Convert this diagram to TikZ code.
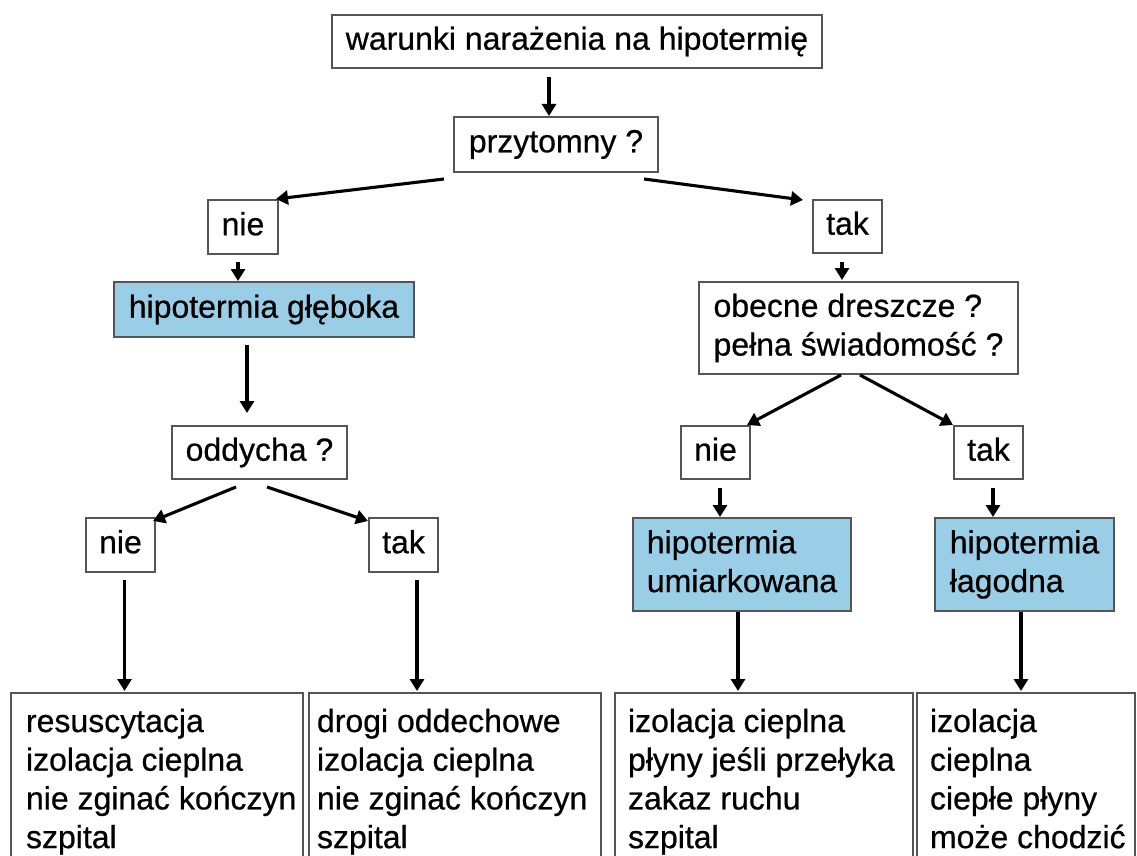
\documentclass[tikz,border=0pt]{standalone}
\usepackage{fontspec}
\setmainfont{Liberation Sans}[FakeBold=0.6]
\usetikzlibrary{arrows.meta}
\definecolor{boxgray}{RGB}{85,85,85}
\definecolor{lblue}{RGB}{153,206,230}
\newcommand\ms{\rule[-0.212em]{0pt}{0.905em}}
\begin{document}
\begin{tikzpicture}[x=1pt,y=-1pt,
  box/.style={draw=boxgray,line width=1.4pt,inner sep=0pt,outer sep=0pt,fill=white,
    font=\fontsize{32}{38.7}\selectfont},
  hyp/.style={box,fill=lblue},
  arr/.style={line width=3.1pt,-{Triangle[length=12pt,width=14pt]}},
  txt/.style={inner sep=0pt,outer sep=0pt,anchor=base west,font=\fontsize{32}{38.7}\selectfont}]
\clip (0,0) rectangle (1137,856);
\fill[white] (0,0) rectangle (1137,856);
% decision / label boxes
\node[box,minimum width=490,minimum height=53] (top) at (577,41.5) {\ms warunki narażenia na hipotermię};
\node[box,minimum width=204,minimum height=55] (p) at (556,144.5) {\ms przytomny ?};
\node[box,minimum width=70,minimum height=54] (n1) at (243,227) {\ms nie};
\node[box,minimum width=69,minimum height=53] (t1) at (847.5,226.5) {\ms tak};
\node[hyp,minimum width=300,minimum height=55] (hg) at (264,309.5) {\ms hipotermia głęboka};
\node[box,minimum width=175,minimum height=53] (od) at (259.5,452.5) {\ms oddycha ?};
\node[box,minimum width=69,minimum height=54] (n2) at (120.5,545) {\ms nie};
\node[box,minimum width=69,minimum height=54] (t2) at (403.5,545) {\ms tak};
\node[box,minimum width=319,minimum height=92,align=left] (ob) at (858.5,328) {\ms obecne dreszcze ?\\\ms pełna świadomość ?};
\node[box,minimum width=69,minimum height=53] (n3) at (715.5,452.5) {\ms nie};
\node[box,minimum width=69,minimum height=53] (t3) at (988.5,452.5) {\ms tak};
\node[hyp,minimum width=218,minimum height=93,align=left] (hu) at (742,564.5) {\ms hipotermia\\\ms umiarkowana};
\node[hyp,minimum width=179,minimum height=93,align=left] (hl) at (1024.5,564.5) {\ms hipotermia\\\ms łagodna};
% bottom boxes
\node[box,anchor=north west,minimum width=292,minimum height=220] (b1) at (11,693) {};
\node[box,anchor=north west,minimum width=292,minimum height=220] (b2) at (309,693) {};
\node[box,anchor=north west,minimum width=298,minimum height=220] (b3) at (615,693) {};
\node[box,anchor=north west,minimum width=218,minimum height=220] (b4) at (917,693) {};
\node[txt] (x1) at ([shift={(15,39)}]b1.north west) {\vtop{\hbox{resuscytacja}\hbox{izolacja cieplna}\hbox{nie zginać kończyn}\hbox{szpital}}};
\node[txt] (x2) at ([shift={(8,39)}]b2.north west) {\vtop{\hbox{drogi oddechowe}\hbox{izolacja cieplna}\hbox{nie zginać kończyn}\hbox{szpital}}};
\node[txt] (x3) at ([shift={(13,39)}]b3.north west) {\vtop{\hbox{izolacja cieplna}\hbox{płyny jeśli przełyka}\hbox{zakaz ruchu}\hbox{szpital}}};
\node[txt] (x4) at ([shift={(13,39)}]b4.north west) {\vtop{\hbox{izolacja}\hbox{cieplna}\hbox{ciepłe płyny}\hbox{może chodzić}}};
% connectors
\draw[arr] ([shift={(-28,9)}]top.south) -- ([shift={(-7,-1)}]p.north);
\draw[arr] ([shift={(-10,7)}]p.south west) -- ([shift={(-2,-1)}]n1.north east);
\draw[arr] ([shift={(-14,7)}]p.south east) -- ([shift={(-10,0)}]t1.north west);
\draw[arr] ([shift={(-5.5,9)}]t1.south) -- ([shift={(-16.5,-2)}]ob.north);
\draw[arr] ([shift={(-5,8)}]n1.south) -- ([shift={(-26,-1)}]hg.north);
\draw[arr] ([shift={(-17,8)}]hg.south) -- ([shift={(-12.5,-13)}]od.north);
\draw[arr] ([shift={(-23.5,8)}]od.south) -- ([shift={(-2,3)}]n2.north east);
\draw[arr] ([shift={(7.5,8)}]od.south) -- ([shift={(-1,3)}]t2.north west);
\draw[arr] ([shift={(4,8)}]n2.south) -- ([shift={(-32.5,-2)}]b1.north);
\draw[arr] ([shift={(13.5,8)}]t2.south) -- ([shift={(-38,-2)}]b2.north);
\draw[arr] ([shift={(-17.5,1)}]ob.south) -- ([shift={(-3,-1)}]n3.north east);
\draw[arr] ([shift={(1.5,1)}]ob.south) -- ([shift={(-1,-1)}]t3.north west);
\draw[arr] ([shift={(4.5,9)}]n3.south) -- ([shift={(-22,-1)}]hu.north);
\draw[arr] ([shift={(4.5,9)}]t3.south) -- ([shift={(-31.5,-1)}]hl.north);
\draw[arr] ([shift={(-4,1)}]hu.south) -- ([shift={(-26,-2)}]b3.north);
\draw[arr] ([shift={(-3.5,1)}]hl.south) -- ([shift={(-5,-2)}]b4.north);
\end{tikzpicture}
\end{document}
